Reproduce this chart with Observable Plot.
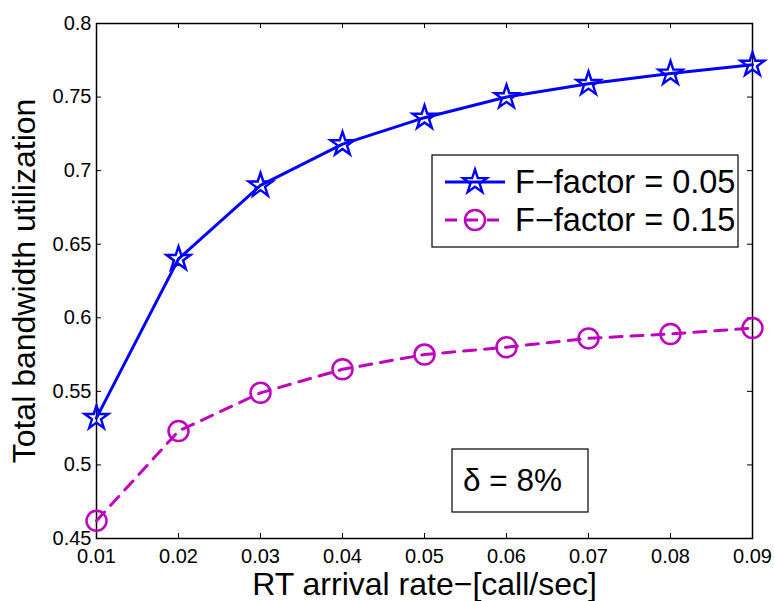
<!DOCTYPE html>
<html>
<head>
<meta charset="utf-8">
<script src="https://cdn.jsdelivr.net/npm/d3@7"></script>
<script src="https://cdn.jsdelivr.net/npm/@observablehq/plot@0.6"></script>
<style>
  html, body { margin: 0; padding: 0; background: #fff; }
  svg { font-family: "Liberation Sans", Arial, Helvetica, sans-serif; }
  g[aria-label="x-axis tick label"] text, g[aria-label="y-axis tick label"] text { font-size: 20px; }
  g[aria-label="x-axis label"] text, g[aria-label="y-axis label"] text { font-size: 32px; }
</style>
</head>
<body>
<div id="chart"></div>
<script>
const rates = [0.01, 0.02, 0.03, 0.04, 0.05, 0.06, 0.07, 0.08, 0.09];
const utilF005 = [0.532, 0.640, 0.690, 0.718, 0.736, 0.750, 0.759, 0.766, 0.772];
const utilF015 = [0.462, 0.523, 0.549, 0.565, 0.575, 0.580, 0.586, 0.589, 0.593];
const xTicks = [0.01, 0.02, 0.03, 0.04, 0.05, 0.06, 0.07, 0.08, 0.09];
const yTicks = [0.45, 0.5, 0.55, 0.6, 0.65, 0.7, 0.75, 0.8];
const seriesNames = ["F\u2212factor = 0.05", "F\u2212factor = 0.15"];
const xLabel = "RT arrival rate\u2212[call/sec]";
const yLabel = "Total bandwidth utilization";
const annotation = "\u03B4 = 8%";

const blue = "#0000ff";
const magenta = "#bf00bf";
const dash = "12,9";

const s1 = rates.map((x, i) => ({x, y: utilF005[i]}));
const s2 = rates.map((x, i) => ({x, y: utilF015[i]}));

const fmt = d => String(d);
const W = 774, H = 601, mL = 96, mR = 22, mT = 23, mB = 63;
const tickLen = 5;
const innerW = W - mL - mR, innerH = H - mT - mB;

const svg = Plot.plot({
  width: W,
  height: H,
  marginLeft: mL,
  marginRight: mR,
  marginTop: mT,
  marginBottom: mB,
  style: {fontSize: "20px", color: "black", background: "white"},
  x: {domain: [0.01, 0.09]},
  y: {domain: [0.45, 0.8]},
  marks: [
    Plot.axisX({anchor: "bottom", ticks: xTicks, tickSize: 0, tickPadding: 10, tickFormat: fmt,
      label: xLabel, labelAnchor: "center", labelArrow: "none", labelOffset: 56}),
    Plot.axisY({anchor: "left", ticks: yTicks, tickSize: 0, tickPadding: 5, tickFormat: fmt,
      label: yLabel, labelAnchor: "center", labelArrow: "none", labelOffset: 84}),
    // inward ticks on all four sides (MATLAB box style)
    Plot.tickX(xTicks, {x: d => d, insetTop: innerH - tickLen, stroke: "black", strokeWidth: 1}),
    Plot.tickX(xTicks, {x: d => d, insetBottom: innerH - tickLen, stroke: "black", strokeWidth: 1}),
    Plot.tickY(yTicks, {y: d => d, insetRight: innerW - tickLen, stroke: "black", strokeWidth: 1}),
    Plot.tickY(yTicks, {y: d => d, insetLeft: innerW - tickLen, stroke: "black", strokeWidth: 1}),
    Plot.frame({stroke: "black", strokeWidth: 1.5}),
    Plot.line(s2, {x: "x", y: "y", stroke: magenta, strokeWidth: 3, strokeDasharray: dash}),
    Plot.dot(s2, {x: "x", y: "y", symbol: "circle", r: 10, stroke: magenta, fill: "none", strokeWidth: 2.5}),
    Plot.line(s1, {x: "x", y: "y", stroke: blue, strokeWidth: 3}),
    Plot.dot(s1, {x: "x", y: "y", symbol: "star", r: 7.5, stroke: blue, fill: "none", strokeWidth: 2.4})
  ]
});
document.getElementById("chart").appendChild(svg);

// Legend (inside plot area, top-right)
const root = d3.select(svg);
const lg = root.append("g").attr("class", "legend").attr("text-anchor", "start");
lg.append("rect").attr("x", 432).attr("y", 155).attr("width", 306).attr("height", 92)
  .attr("fill", "white").attr("stroke", "black").attr("stroke-width", 1.2);
const rows = [
  {name: seriesNames[0], color: blue, dashed: false, y: 182},
  {name: seriesNames[1], color: magenta, dashed: true, y: 220}
];
rows.forEach(r => {
  lg.append("line").attr("x1", 445).attr("x2", 505).attr("y1", r.y).attr("y2", r.y)
    .attr("stroke", r.color).attr("stroke-width", 3)
    .attr("stroke-dasharray", r.dashed ? dash : null);
  if (r.dashed) {
    lg.append("circle").attr("cx", 475).attr("cy", r.y).attr("r", 10)
      .attr("fill", "none").attr("stroke", r.color).attr("stroke-width", 2.5);
  } else {
    lg.append("path").attr("d", d3.symbol(d3.symbolStar, Math.PI * 56)())
      .attr("transform", `translate(475,${r.y})`)
      .attr("fill", "none").attr("stroke", r.color).attr("stroke-width", 2.4);
  }
  lg.append("text").attr("x", 515).attr("y", r.y).attr("dy", "0.35em")
    .attr("text-anchor", "start").attr("font-size", 32.5).attr("fill", "black").text(r.name);
});

// Annotation box
const ab = root.append("g").attr("class", "annotation");
ab.append("rect").attr("x", 452).attr("y", 449).attr("width", 136).attr("height", 63)
  .attr("fill", "white").attr("stroke", "black").attr("stroke-width", 1.2);
ab.append("text").attr("x", 463).attr("y", 480).attr("dy", "0.35em")
  .attr("text-anchor", "start").attr("font-size", 31.5).attr("fill", "black").text(annotation);
</script>
</body>
</html>
